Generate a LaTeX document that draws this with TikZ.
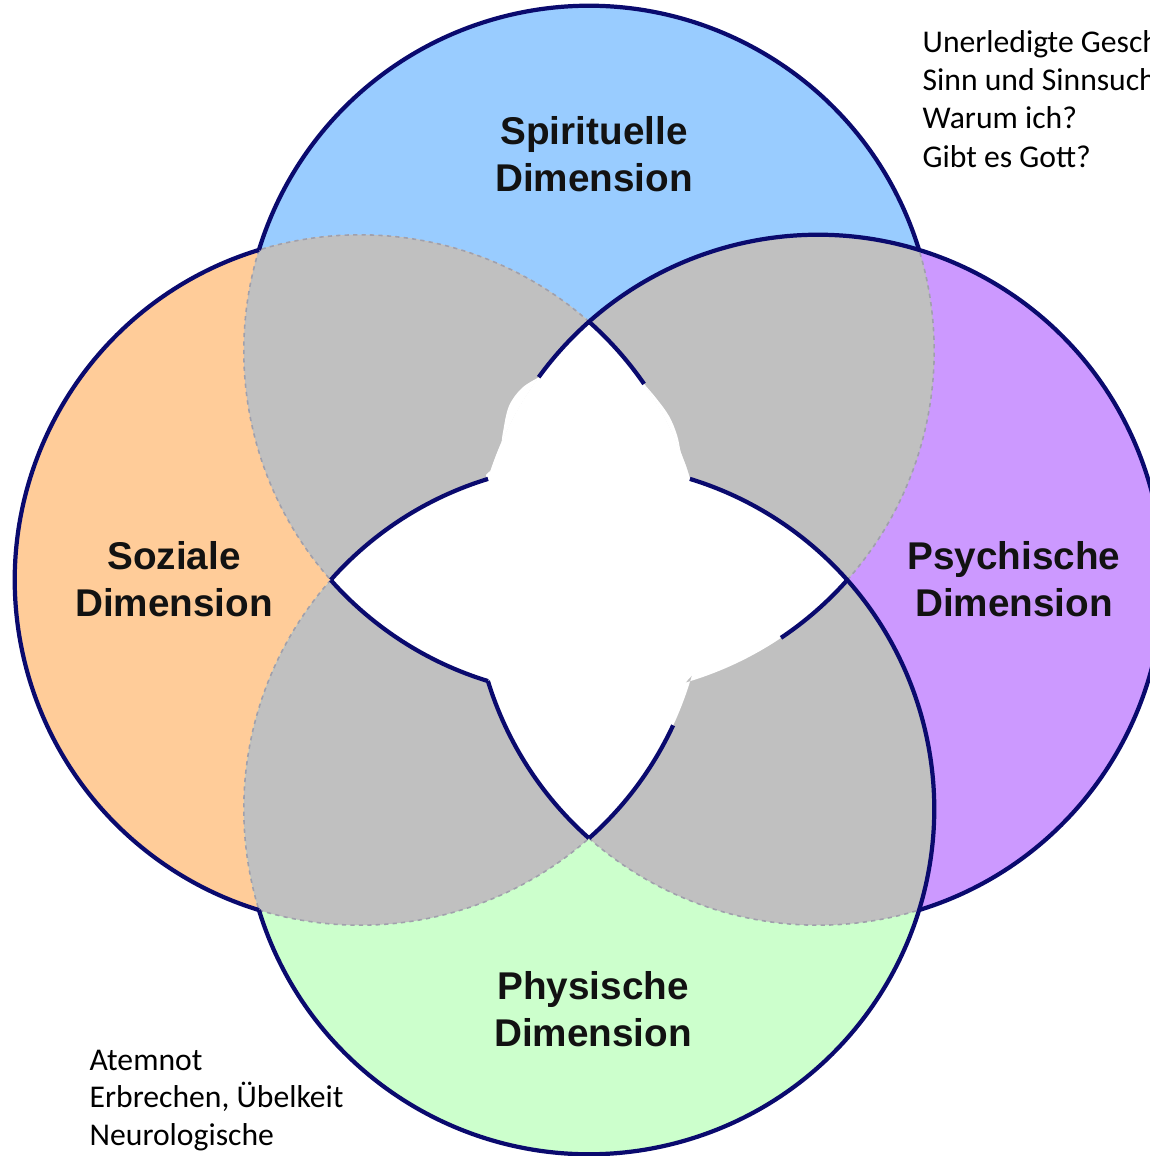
\documentclass[tikz,border=0pt]{standalone}
\usepackage{fontspec}
\setmainfont{Liberation Sans}
\newfontfamily\calfont{Carlito}
\definecolor{cblue}{HTML}{99CCFF}
\definecolor{cpurple}{HTML}{CC99FF}
\definecolor{corange}{HTML}{FFCC99}
\definecolor{cgreen}{HTML}{CCFFCC}
\definecolor{cgray}{HTML}{C0C0C0}
\definecolor{cnavy}{RGB}{10,10,110}
\definecolor{cfaint}{RGB}{160,160,172}
\begin{document}
\begin{tikzpicture}[x=0.01cm,y=0.01cm,
  outl/.style={line width=1.2pt, draw=cnavy},
  faint/.style={line width=0.45pt, draw=cfaint, dash pattern=on 1.2pt off 1.2pt},
  dimlabel/.style={font=\fontsize{11}{13.4}\selectfont\bfseries, align=center, text=black!93, inner sep=0pt},
  note/.style={font=\calfont\fontsize{9}{10.8}\selectfont, anchor=base west, inner sep=0pt, text=black}]
\def\rad{3.45cm}
\useasboundingbox (0,0) rectangle (1150,1156);
\clip (0,0) rectangle (1150,1156);
\coordinate (T) at (589,805);
\coordinate (L) at (360,576);
\coordinate (R) at (818,576);
\coordinate (B) at (589,347);
% coloured circles
\fill[cblue] (T) circle[radius=\rad];
\fill[corange] (L) circle[radius=\rad];
\fill[cpurple] (R) circle[radius=\rad];
\fill[cgreen] (B) circle[radius=\rad];
% pairwise overlaps
\begin{scope}
  \clip (T) circle[radius=\rad];
  \fill[cgray] (L) circle[radius=\rad];
  \fill[cgray] (R) circle[radius=\rad];
\end{scope}
\begin{scope}
  \clip (B) circle[radius=\rad];
  \fill[cgray] (L) circle[radius=\rad];
  \fill[cgray] (R) circle[radius=\rad];
\end{scope}
% regions in three circles: white
\begin{scope}\clip (T) circle[radius=\rad]; \clip (L) circle[radius=\rad]; \fill[white] (R) circle[radius=\rad];\end{scope}
\begin{scope}\clip (T) circle[radius=\rad]; \clip (L) circle[radius=\rad]; \fill[white] (B) circle[radius=\rad];\end{scope}
\begin{scope}\clip (T) circle[radius=\rad]; \clip (R) circle[radius=\rad]; \fill[white] (B) circle[radius=\rad];\end{scope}
\begin{scope}\clip (L) circle[radius=\rad]; \clip (R) circle[radius=\rad]; \fill[white] (B) circle[radius=\rad];\end{scope}
% erased patches
\fill[white] plot[smooth, tension=0.6] coordinates {(538.8,778.6) (522,768) (509,750) (503,724) (500,703) (494,689) (486,681) (488.1,676.9)}
  arc[start angle=162.994, end angle=144.02, radius=\rad] -- cycle;
\fill[white] plot[smooth, tension=0.6] coordinates {(644,772) (656,758) (669,740) (677,721) (681,703) (686,690) (689.9,676.9)}
  arc[start angle=17.006, end angle=34.61, radius=\rad] -- cycle;
\begin{scope}
  \clip (T) circle[radius=\rad];
  \clip (L) circle[radius=\rad];
  \fill[cgray] plot[smooth, tension=0.6] coordinates {(672.9,430.7) (676,451) (680,464) (688,476) (702,489) (720,499) (744,508) (764,516) (780.9,518.3)}
    -- (800,470) -- (700,400) -- cycle;
\end{scope}
% faint boundaries
\draw[faint] ([shift={(162.994:\rad)}]T) arc[start angle=162.994, end angle=221.58, radius=\rad];
\draw[faint] ([shift={(318.42:\rad)}]T) arc[start angle=318.42, end angle=377.006, radius=\rad];
\draw[faint] ([shift={(48.42:\rad)}]L) arc[start angle=48.42, end angle=107.006, radius=\rad];
\draw[faint] ([shift={(252.994:\rad)}]L) arc[start angle=252.994, end angle=311.58, radius=\rad];
\draw[faint] ([shift={(228.42:\rad)}]R) arc[start angle=228.42, end angle=287.006, radius=\rad];
\draw[faint] ([shift={(138.42:\rad)}]B) arc[start angle=138.42, end angle=196.994, radius=\rad];
% dark outlines
\draw[outl] ([shift={(17.006:\rad)}]T) arc[start angle=17.006, end angle=162.994, radius=\rad];
\draw[outl] ([shift={(221.58:\rad)}]T) arc[start angle=221.58, end angle=252.994, radius=\rad];
\draw[outl] ([shift={(303.8:\rad)}]T) arc[start angle=303.8, end angle=318.42, radius=\rad];
\draw[outl] ([shift={(107.006:\rad)}]L) arc[start angle=107.006, end angle=252.994, radius=\rad];
\draw[outl] ([shift={(34.61:\rad)}]L) arc[start angle=34.61, end angle=48.42, radius=\rad];
\draw[outl] ([shift={(311.58:\rad)}]L) arc[start angle=311.58, end angle=335.1, radius=\rad];
\draw[outl] ([shift={(-72.994:\rad)}]R) arc[start angle=-72.994, end angle=144.02, radius=\rad];
\draw[outl] ([shift={(196.994:\rad)}]R) arc[start angle=196.994, end angle=228.42, radius=\rad];
\draw[outl] ([shift={(196.994:\rad)}]B) arc[start angle=196.994, end angle=433.006, radius=\rad];
\draw[outl] ([shift={(107.006:\rad)}]B) arc[start angle=107.006, end angle=138.42, radius=\rad];
% labels
\node[dimlabel] (spir) at (594,1002) {Spirituelle\\Dimension};
\node[dimlabel] (soz) at (174,577) {Soziale\\Dimension};
\node[dimlabel] (psy) at (1014,577) {Psychische\\Dimension};
\node[dimlabel] (phys) at (593,147) {Physische\\Dimension};
% notes
\node[note] (n1) at (922,1104) {Unerledigte Gesch};
\node[note] (n2) at (922,1066) {Sinn und Sinnsuch};
\node[note] (n3) at (922,1028) {Warum ich?};
\node[note] (n4) at (922,989) {Gibt es Gott?};
\node[note] (a1) at (89,86) {Atemnot};
\node[note] (a2) at (89,48) {Erbrechen, Übelkeit};
\node[note] (a3) at (89,11) {Neurologische};
\end{tikzpicture}
\end{document}
